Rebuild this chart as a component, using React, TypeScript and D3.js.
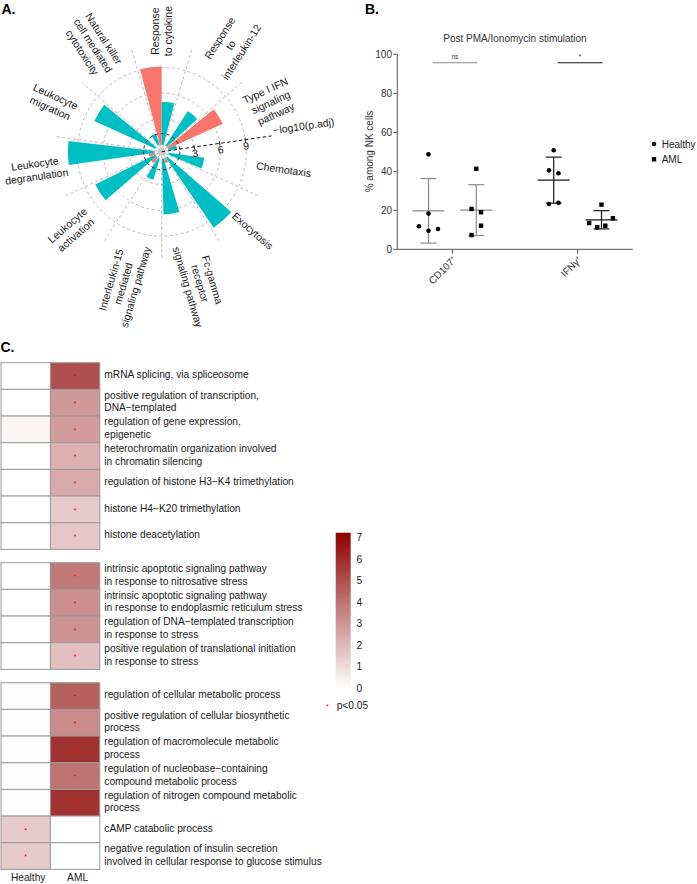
import React from 'react';
import * as d3 from 'd3';

const FONT = "'Liberation Sans', Arial, Helvetica, sans-serif";

// ---------- Panel A data ----------
const radialCategories = [
  "Response\nto cytokine",
  "Response\nto\ninterleukin-12",
  "Type I IFN\nsignaling\npathway",
  "Chemotaxis",
  "Exocytosis",
  "Fc-gamma\nreceptor\nsignaling pathway",
  "Interleukin-15\nmediated\nsignaling pathway",
  "Leukocyte\nactivation",
  "Leukocyte\ndegranulation",
  "Leukocyte\nmigration",
  "Natural killer\ncell mediated\ncytotoxicity",
];
const radialSeriesA = [9.1, 0, 7.0, 0, 0, 0.6, 0, 0.8, 0.7, 0, 0];
const radialSeriesB = [5.0, 4.8, 1.0, 4.2, 9.9, 6.5, 2.6, 7.8, 10.1, 7.8, 1.4];
const radialTicks = [3, 6, 9];
const radialThreshold = 1.3;
const radialColors = ["#F8766D", "#00BFC4"];

// ---------- Panel B data ----------
const bCategories = ["CD107\u207A", "IFN\u03B3\u207A"];
const bGroups = ["Healthy", "AML"];
const cd107Healthy = [48.7, 18.3, 11.8, 9.5, 10.4];
const cd107AML = [41.3, 20.7, 19.0, 12.1, 7.3];
const ifngHealthy = [50.8, 40.5, 39.0, 23.2, 23.9];
const ifngAML = [22.9, 15.9, 13.5, 11.3, 12.1];
const cd107HealthyJitter = [0, 0, -1, 0, 1];
const cd107AMLJitter = [0, -0.5, 0.5, 0.5, -0.5];
const ifngHealthyJitter = [0, -0.5, 0.5, -0.5, 0.5];
const ifngAMLJitter = [0, 1.2, -1.3, -0.45, 0.4];
const bTicks = [0, 20, 40, 60, 80, 100];
const bSignif = ["ns", "*"];

// ---------- Panel C data ----------
const heatTerms = [
  "mRNA splicing, via spliceosome",
  "positive regulation of transcription,\nDNA\u2212templated",
  "regulation of gene expression,\nepigenetic",
  "heterochromatin organization involved\nin chromatin silencing",
  "regulation of histone H3\u2212K4 trimethylation",
  "histone H4\u2212K20 trimethylation",
  "histone deacetylation",
  "intrinsic apoptotic signaling pathway\nin response to nitrosative stress",
  "intrinsic apoptotic signaling pathway\nin response to endoplasmic reticulum stress",
  "regulation of DNA\u2212templated transcription\nin response to stress",
  "positive regulation of translational initiation\nin response to stress",
  "regulation of cellular metabolic process",
  "positive regulation of cellular biosynthetic\nprocess",
  "regulation of macromolecule metabolic\nprocess",
  "regulation of nucleobase\u2212containing\ncompound metabolic process",
  "regulation of nitrogen compound metabolic\nprocess",
  "cAMP catabolic process",
  "negative regulation of insulin secretion\ninvolved in cellular response to glucose stimulus",
];
const heatGroup = [0, 0, 0, 0, 0, 0, 0, 1, 1, 1, 1, 2, 2, 2, 2, 2, 2, 2];
const heatColumns = ["Healthy", "AML"];
const heatHealthy = [0, 0, 0.25, 0, 0, 0, 0, 0, 0, 0, 0, 0.08, 0.05, 0.05, 0.05, 0.05, 1.5, 1.5];
const heatAML = [5.0, 2.9, 2.8, 2.2, 2.4, 1.5, 1.6, 3.8, 3.2, 3.1, 1.8, 4.5, 3.3, 5.8, 4.0, 5.8, 0, 0];
const heatSigHealthy = [0, 0, 0, 0, 0, 0, 0, 0, 0, 0, 0, 0, 0, 0, 0, 0, 1, 1];
const heatSigAML = [1, 1, 1, 1, 1, 1, 1, 1, 1, 1, 1, 1, 1, 1, 1, 1, 0, 0];
const legendTicks = [0, 1, 2, 3, 4, 5, 6, 7];

let _ctx: CanvasRenderingContext2D | null = null;
function measure(t: string, font: string) {
  if (!_ctx) _ctx = document.createElement('canvas').getContext('2d');
  if (!_ctx) return t.length * 5.5;
  _ctx.font = font;
  return _ctx.measureText(t).width;
}

function PanelA() {
  const cx = 161.7, cy = 151.7;
  const n = radialCategories.length;
  const step = 360 / n;
  const r = d3.scaleLinear().domain([0, 9]).range([7, 84.4]);
  const bw = step * 0.45;
  const rad = (d: number) => (d * Math.PI) / 180;
  const arc = d3.arc<any>();
  const pt = (deg: number, rr: number) => [cx + rr * Math.sin(rad(deg)), cy - rr * Math.cos(rad(deg))];
  const axisIdx = 2;
  const axisDeg = (axisIdx + 0.5) * step;
  const grid = '#b3b3b3';
  const fs = 10.5;
  const labelFont = `${fs}px ${FONT}`;
  return (
    <g>
      {d3.range(n).map((k) => {
        if (k === axisIdx) return null;
        const a = (k + 0.5) * step;
        const [x1, y1] = pt(a, 4);
        const [x2, y2] = pt(a, 108);
        return <line key={'s' + k} x1={x1} y1={y1} x2={x2} y2={y2} stroke={grid} strokeWidth={0.9} strokeDasharray="3,2.5" />;
      })}
      {radialTicks.map((t) => (
        <circle key={'c' + t} cx={cx} cy={cy} r={r(t)} fill="none" stroke={grid} strokeWidth={0.9} strokeDasharray="3,2.5" />
      ))}
      <circle cx={cx} cy={cy} r={3.5} fill="#cfcfcf" stroke="#999" strokeWidth={0.8} strokeDasharray="1.5,1" />
      {radialCategories.map((c, i) => {
        const center = i * step;
        return [radialSeriesA[i], radialSeriesB[i]].map((v, s) => {
          if (!v) return null;
          const start = s === 0 ? center - bw : center;
          const d = arc({ innerRadius: r(0), outerRadius: r(v), startAngle: rad(start), endAngle: rad(start + bw) }) as string;
          return <path key={c + s} d={d} transform={`translate(${cx},${cy})`} fill={radialColors[s]} />;
        });
      })}
      <circle cx={cx} cy={cy} r={r(radialThreshold)} fill="none" stroke="#111" strokeWidth={0.9} strokeDasharray="3,3" />
      {(() => {
        const [x2, y2] = pt(axisDeg, 111);
        return <line x1={cx} y1={cy} x2={x2} y2={y2} stroke="#111" strokeWidth={1} strokeDasharray="3.5,2.5" />;
      })()}
      {radialTicks.map((t) => {
        const [x, y] = pt(axisDeg, r(t));
        return (
          <g key={'tl' + t} transform={`translate(${x},${y}) rotate(${axisDeg - 90})`}>
            <line x1={0} y1={-2} x2={0} y2={2} stroke="#111" strokeWidth={0.9} />
            <text x={0} y={6} dominantBaseline="central" textAnchor="middle" fontSize={10.5} fill="#1a1a1a">{t}</text>
          </g>
        );
      })}
      {(() => {
        const [x, y] = pt(axisDeg, 113.5);
        return (
          <text transform={`translate(${x},${y}) rotate(${axisDeg - 90})`} x={0} y={-1.5} fontSize={10.5} fill="#1a1a1a">{'\u2212log10(p.adj)'}</text>
        );
      })()}
      {radialCategories.map((c, i) => {
        const a = i * step;
        const lines = c.split('\n');
        const maxW = d3.max(lines, (l) => measure(l, labelFont)) || 0;
        const Rc = 95.5 + maxW / 2;
        const [x, y] = pt(a, Rc);
        const rot = a < 180 ? a - 90 : a - 270;
        const lh = 12.8;
        return (
          <g key={'lab' + i} transform={`translate(${x},${y}) rotate(${rot})`}>
            {lines.map((l, j) => (
              <text key={j} x={0} y={(j - (lines.length - 1) / 2) * lh} textAnchor="middle" dominantBaseline="central" fontSize={fs} fill="#1a1a1a">{l}</text>
            ))}
          </g>
        );
      })}
    </g>
  );
}

function PanelB() {
  const y = d3.scaleLinear().domain([0, 100]).range([249.3, 54.3]);
  const x = d3.scalePoint<string>().domain(bCategories).range([397.3, 632.7]).padding(0.44);
  const sub = d3.scalePoint<string>().domain(bGroups).range([-23.9, 23.9]);
  const jitterUnit = 9.5;
  const sets = [
    { cat: bCategories[0], grp: bGroups[0], vals: cd107Healthy, jit: cd107HealthyJitter, col: '#8a8a8a' },
    { cat: bCategories[0], grp: bGroups[1], vals: cd107AML, jit: cd107AMLJitter, col: '#8a8a8a' },
    { cat: bCategories[1], grp: bGroups[0], vals: ifngHealthy, jit: ifngHealthyJitter, col: '#1a1a1a' },
    { cat: bCategories[1], grp: bGroups[1], vals: ifngAML, jit: ifngAMLJitter, col: '#1a1a1a' },
  ];
  const axisCol = '#555';
  return (
    <g fontSize={10}>
      <text x={515} y={41.5} textAnchor="middle" fill="#333">Post PMA/Ionomycin stimulation</text>
      <line x1={397.3} y1={y(100)} x2={397.3} y2={y(0)} stroke={axisCol} strokeWidth={1} />
      <line x1={397.3} y1={y(0)} x2={632.7} y2={y(0)} stroke={axisCol} strokeWidth={1} />
      {bTicks.map((t) => (
        <g key={t}>
          <line x1={393.3} x2={397.3} y1={y(t)} y2={y(t)} stroke={axisCol} />
          <text x={392} y={y(t)} textAnchor="end" dominantBaseline="central" fill="#333">{t}</text>
        </g>
      ))}
      {bCategories.map((c) => (
        <g key={c}>
          <line x1={x(c)} x2={x(c)} y1={y(0)} y2={y(0) + 4.5} stroke={axisCol} />
          <text transform={`translate(${(x(c) as number) + 2},${y(0) + 9}) rotate(-45)`} textAnchor="end" dominantBaseline="central" fill="#333">{c}</text>
        </g>
      ))}
      <text transform={`translate(369,151.5) rotate(-90)`} textAnchor="middle" dominantBaseline="central" fill="#333">% among NK cells</text>
      {sets.map((s, i) => {
        const cxp = (x(s.cat) as number) + (sub(s.grp) as number);
        const m = d3.mean(s.vals) as number;
        const sd = d3.deviation(s.vals) as number;
        return (
          <g key={i}>
            <line x1={cxp} x2={cxp} y1={y(m + sd)} y2={y(m - sd)} stroke={s.col} strokeWidth={1.2} />
            <line x1={cxp - 16} x2={cxp + 16} y1={y(m)} y2={y(m)} stroke={s.col} strokeWidth={1.2} />
            <line x1={cxp - 8} x2={cxp + 8} y1={y(m + sd)} y2={y(m + sd)} stroke={s.col} strokeWidth={1.2} />
            <line x1={cxp - 8} x2={cxp + 8} y1={y(m - sd)} y2={y(m - sd)} stroke={s.col} strokeWidth={1.2} />
            {s.vals.map((v, j) => {
              const px = cxp + s.jit[j] * jitterUnit;
              return s.grp === 'Healthy'
                ? <circle key={j} cx={px} cy={y(v)} r={2.3} fill="#000" />
                : <rect key={j} x={px - 2.2} y={y(v) - 2.2} width={4.4} height={4.4} fill="#000" />;
            })}
          </g>
        );
      })}
      {bCategories.map((c, i) => {
        const x0 = (x(c) as number) + (sub(bGroups[0]) as number) + 4;
        const x1 = (x(c) as number) + (sub(bGroups[1]) as number) + 1;
        const col = i === 0 ? '#8a8a8a' : '#1a1a1a';
        return (
          <g key={'sig' + i}>
            <line x1={x0} x2={x1} y1={62.7} y2={62.7} stroke={col} strokeWidth={1.1} />
            <text x={(x0 + x1) / 2} y={59} textAnchor="middle" fontSize={6.5} fill="#333">{bSignif[i]}</text>
          </g>
        );
      })}
      <circle cx={654} cy={144} r={2.3} fill="#000" />
      <text x={661.7} y={144} dominantBaseline="central" fill="#222">{bGroups[0]}</text>
      <rect x={651.8} y={157.1} width={4.4} height={4.4} fill="#000" />
      <text x={661.7} y={159.3} dominantBaseline="central" fill="#222">{bGroups[1]}</text>
    </g>
  );
}

function PanelC() {
  const top = 362.7, rowH = 26.67, gap = 13.33, x0 = 1, colW = 49.4;
  const color = d3.scaleLinear<string>().domain([0, 7.23]).range(['#ffffff', '#8b0000']).interpolate(d3.interpolateRgb);
  const rowY = (i: number) => top + i * rowH + heatGroup[i] * gap;
  const legY = d3.scaleLinear().domain([0, 7]).range([688.3, 537.7]);
  const gradStops = d3.range(0, 11).map((k) => k / 10);
  return (
    <g>
      <defs>
        <linearGradient id="legGrad" x1="0" y1="1" x2="0" y2="0">
          {gradStops.map((s) => (
            <stop key={s} offset={s} stopColor={color(s * 7.23)} />
          ))}
        </linearGradient>
      </defs>
      {heatTerms.map((t, i) => {
        const yy = rowY(i);
        const vals = [heatHealthy[i], heatAML[i]];
        const sigs = [heatSigHealthy[i], heatSigAML[i]];
        const lines = t.split('\n');
        const yc = yy + rowH / 2;
        return (
          <g key={i}>
            {vals.map((v, c) => (
              <g key={c}>
                <rect x={x0 + c * colW} y={yy} width={colW} height={rowH} fill={color(v)} stroke="#9a9a9a" strokeWidth={1} />
                {sigs[c] ? (
                  <text x={x0 + c * colW + colW / 2} y={yc + 3.2} textAnchor="middle" fontSize={7} fill="#ff0000">*</text>
                ) : null}
              </g>
            ))}
            {lines.map((l, j) => (
              <text key={j} x={104.3} y={yc + 2.3 + (j - (lines.length - 1) / 2) * 12.7} fontSize={10.2} fill="#1a1a1a">{l}</text>
            ))}
          </g>
        );
      })}
      {heatColumns.map((c, k) => (
        <text key={c} x={x0 + k * colW + colW / 2 + 2.5} y={877} textAnchor="middle" dominantBaseline="central" fontSize={10.2} fill="#1a1a1a">{c}</text>
      ))}
      <rect x={335.7} y={legY(7.23)} width={15} height={legY(0) - legY(7.23)} fill="url(#legGrad)" />
      {legendTicks.map((t) => (
        <text key={t} x={356.5} y={legY(t)} dominantBaseline="central" fontSize={10.2} fill="#1a1a1a">{t}</text>
      ))}
      <text x={327.3} y={709} textAnchor="middle" fontSize={7} fill="#ff0000">*</text>
      <text x={336.7} y={705.5} dominantBaseline="central" fontSize={10.2} fill="#1a1a1a">p&lt;0.05</text>
    </g>
  );
}

export default function App() {
  return (
    <svg width={697} height={884} style={{ position: 'absolute', left: 0, top: 0, fontFamily: FONT, background: '#fff' }}>
      <rect x={0} y={0} width={697} height={884} fill="#fff" />
      <text x={1.5} y={14} fontSize={14} fontWeight="bold">A.</text>
      <text x={365} y={13.5} fontSize={14} fontWeight="bold">B.</text>
      <text x={0.5} y={352} fontSize={14} fontWeight="bold">C.</text>
      <PanelA />
      <PanelB />
      <PanelC />
    </svg>
  );
}
